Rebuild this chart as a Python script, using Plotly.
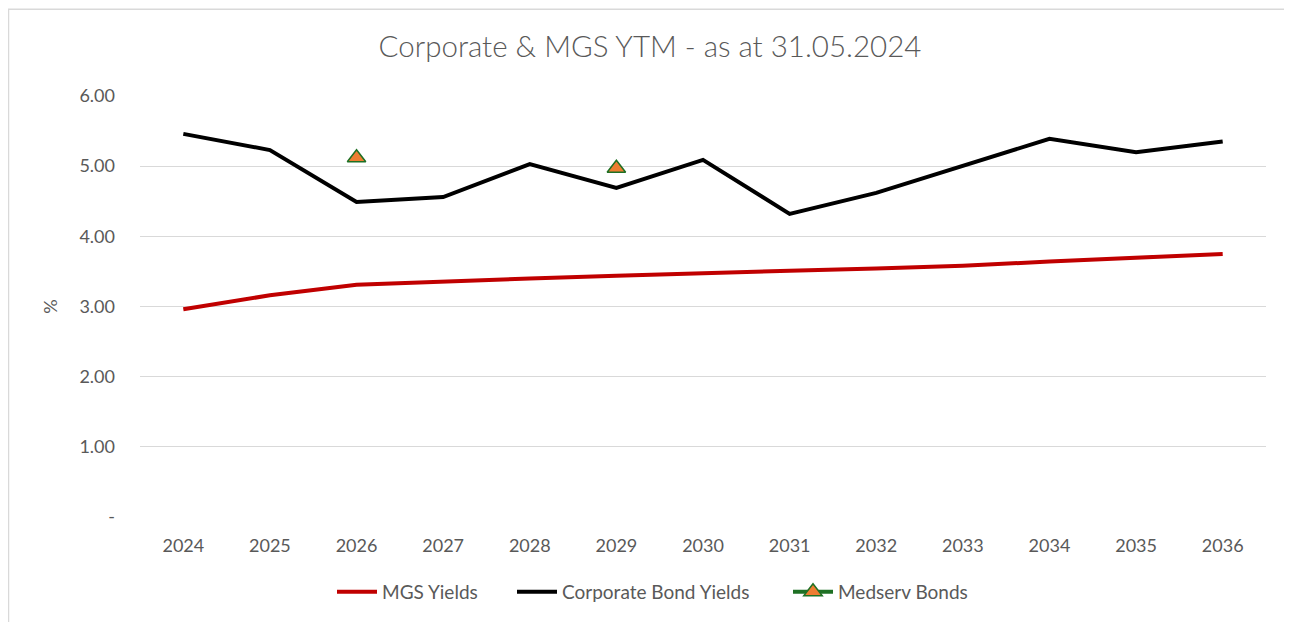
import plotly.graph_objects as go

years = ["2024", "2025", "2026", "2027", "2028", "2029", "2030", "2031", "2032", "2033", "2034", "2035", "2036"]
mgs_yields = [2.96, 3.16, 3.31, 3.36, 3.40, 3.44, 3.48, 3.51, 3.54, 3.58, 3.64, 3.70, 3.75]
corporate_yields = [5.46, 5.23, 4.49, 4.56, 5.03, 4.69, 5.09, 4.32, 4.62, 5.00, 5.39, 5.20, 5.35]
medserv_bonds = [None, None, 5.12, None, None, 4.97, None, None, None, None, None, None, None]
y_tickvals = [0, 1, 2, 3, 4, 5, 6]
y_ticktext = ["-", "1.00", "2.00", "3.00", "4.00", "5.00", "6.00"]

FONT = "Lato"
GREY = "#595959"

# page body has an 8px margin: figure is drawn from (8, 8)
W, H = 1284, 614
L, R, T, B = 132, 26, 88, 104
PW, PH = W - L - R, H - T - B


def px_x(screen_x):
    return (screen_x - 8 - L) / PW


def px_y(screen_y):
    return (T + PH - (screen_y - 8)) / PH


fig = go.Figure()
fig.add_trace(go.Scatter(x=years, y=mgs_yields, mode="lines", name="MGS Yields",
                         legend="legend",
                         line=dict(color="#C00000", width=4)))
fig.add_trace(go.Scatter(x=years, y=corporate_yields, mode="lines", name="Corporate Bond Yields",
                         legend="legend2",
                         line=dict(color="#000000", width=4)))
fig.add_trace(go.Scatter(x=years, y=medserv_bonds, mode="lines+markers", name="Medserv Bonds",
                         legend="legend3", connectgaps=False,
                         line=dict(color="#1E7024", width=4),
                         marker=dict(symbol="triangle-up", size=16, color="#ED7D31",
                                     line=dict(color="#1E7024", width=1.5))))

leg_common = dict(orientation="h", xanchor="left", y=px_y(592), yanchor="middle",
                  font=dict(size=19, color=GREY), itemwidth=40,
                  bgcolor="rgba(0,0,0,0)")

fig.update_layout(
    width=W, height=H,
    margin=dict(l=L, r=R, t=T, b=B),
    paper_bgcolor="white", plot_bgcolor="white",
    title=dict(text="Corporate & MGS YTM - as at 31.05.2024", x=0.5, xanchor="center",
               y=1 - 39 / H, yanchor="middle",
               font=dict(family=FONT, size=29.5, color=GREY, weight=300)),
    font=dict(family=FONT, size=16, color=GREY),
    xaxis=dict(type="category", range=[-0.5, 12.5], showgrid=False, showline=False,
               ticks="", tickfont=dict(size=18, color=GREY), zeroline=False,
               ticklabelstandoff=16),
    yaxis=dict(range=[0, 6], tickvals=y_tickvals, ticktext=y_ticktext,
               showgrid=True, gridcolor="#D9D9D9", gridwidth=1, zeroline=False,
               showline=False, ticks="", ticklen=0, ticklabelstandoff=24,
               tickfont=dict(size=18, color=GREY),
               title=dict(text="%", font=dict(size=18, color=GREY), standoff=17)),
    legend=dict(x=px_x(332), **leg_common),
    legend2=dict(x=px_x(512), **leg_common),
    legend3=dict(x=px_x(788), **leg_common),
    showlegend=True,
    shapes=[dict(type="rect", xref="paper", yref="paper",
                 x0=(0.5 - L) / PW, x1=(1282 - L) / PW,
                 y0=(T + PH - 640) / PH, y1=(T + PH - 1) / PH,
                 line=dict(color="#D9D9D9", width=1.5), layer="below")],
)

fig.write_html("out.html")
